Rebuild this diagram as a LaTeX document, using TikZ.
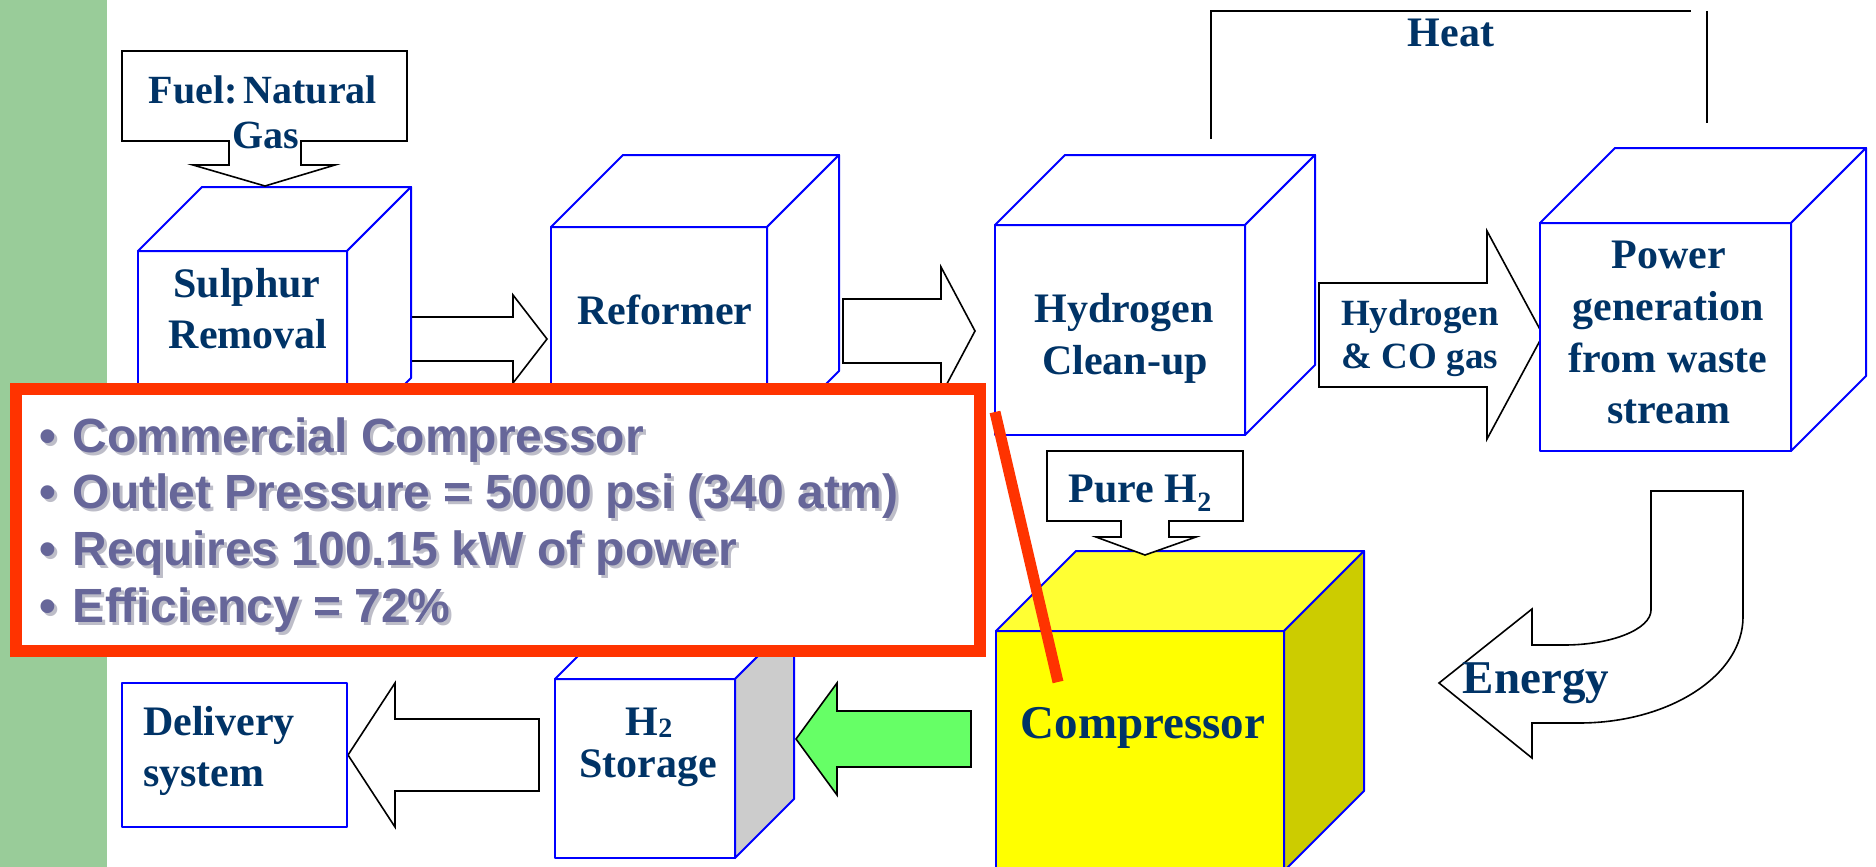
\documentclass[tikz,border=0pt]{standalone}
\usepackage{fontspec}
\setmainfont{Liberation Serif}
\newfontfamily\arialfont{Liberation Sans}

\definecolor{navy}{HTML}{003366}
\definecolor{cubeblue}{HTML}{0000FF}
\definecolor{sidebar}{HTML}{99CC99}
\definecolor{alertred}{HTML}{FF3300}
\definecolor{notetext}{HTML}{666699}
\definecolor{shadegrey}{HTML}{BDBDC8}
\definecolor{compyellow}{HTML}{FFFF00}
\definecolor{comptop}{HTML}{FFFF33}
\definecolor{compside}{HTML}{CCCC00}
\definecolor{tankside}{HTML}{CCCCCC}
\definecolor{flowgreen}{HTML}{66FF66}

\tikzset{
  cubeline/.style={draw=cubeblue, line width=2pt, line join=round},
  blockarrow/.style={draw=black, line width=1.6pt, line join=miter},
  heatline/.style={draw=black, line width=1.8pt},
  lbl/.style={text=navy, font=\fontsize{42}{50}\selectfont\bfseries, inner sep=0pt, anchor=base},
  notetxt/.style={font=\arialfont\fontsize{48}{56}\selectfont\bfseries, inner sep=0pt, anchor=base west}
}

% x y w h depth front top side
\newcommand{\boxcube}[8]{%
  \filldraw[cubeline, fill=#6] (#1,#2) rectangle (#1+#3,#2+#4);
  \filldraw[cubeline, fill=#7] (#1,#2) -- (#1+#5,#2-#5) -- (#1+#3+#5,#2-#5) -- (#1+#3,#2) -- cycle;
  \filldraw[cubeline, fill=#8] (#1+#3,#2) -- (#1+#3+#5,#2-#5) -- (#1+#3+#5,#2+#4-#5) -- (#1+#3,#2+#4) -- cycle;
}
% tail x, head x, tip x, mid y, half body, half head, fill
\newcommand{\flatarrow}[7]{%
  \filldraw[blockarrow, fill=#7] (#1,#4-#5) -- (#2,#4-#5) -- (#2,#4-#6) -- (#3,#4)
    -- (#2,#4+#6) -- (#2,#4+#5) -- (#1,#4+#5) -- cycle;
}
\newcommand{\lowtwo}[1]{\raisebox{-#1}{\fontsize{28}{30}\selectfont 2}}

\begin{document}
\begin{tikzpicture}[x=1pt,y=-1pt]
\useasboundingbox (0,0) rectangle (1876,867);
\fill[sidebar] (0,0) rectangle (107,867);

% flow arrows
\flatarrow{411}{513}{547}{339}{22}{44}{white}
\flatarrow{843}{941}{975}{331}{32}{64}{white}
\flatarrow{1319}{1487}{1543}{335}{52}{104}{white}
\flatarrow{539}{395}{348}{755}{36}{72}{white}
\flatarrow{971}{837}{796}{739}{28}{56}{flowgreen}

% energy return
\filldraw[blockarrow, fill=white] (1651,491) -- (1743,491) -- (1743,617)
  .. controls (1743,675) and (1670,723) .. (1579,723) -- (1532,723) -- (1532,758)
  -- (1439,683) -- (1532,609) -- (1532,645) -- (1564,645)
  .. controls (1612,645) and (1651,629) .. (1651,610) -- cycle;

% heat loop
\draw[heatline] (1211,139) -- (1211,11) -- (1691,11);
\draw[heatline] (1707,11) -- (1707,123);

% units
\boxcube{138}{251}{209}{191}{64}{white}{white}{white}
\boxcube{551}{227}{216}{216}{72}{white}{white}{white}
\boxcube{995}{225}{250}{210}{70}{white}{white}{white}
\boxcube{1540}{223}{251}{228}{75}{white}{white}{white}
\boxcube{996}{631}{288}{240}{80}{compyellow}{comptop}{compside}
\boxcube{555}{679}{180}{179}{59}{white}{white}{tankside}
\filldraw[cubeline, fill=white] (122,683) rectangle (347,827);

% feed callouts
\filldraw[blockarrow, fill=white] (122,51) -- (407,51) -- (407,141) -- (301,141) -- (301,165)
  -- (335,165) -- (265,186) -- (193,165) -- (229,165) -- (229,141) -- (122,141) -- cycle;
\filldraw[blockarrow, fill=white] (1047,451) -- (1243,451) -- (1243,521) -- (1169,521) -- (1169,537)
  -- (1196,537) -- (1145,555) -- (1096,537) -- (1121,537) -- (1121,521) -- (1047,521) -- cycle;

% labels
\node[lbl, font=\fontsize{40}{48}\selectfont\bfseries] (fuelA) at (263,103) {Fuel:\hspace{6pt}Natural};
\node[lbl, font=\fontsize{40}{48}\selectfont\bfseries] (fuelB) at (266,148) {Gas};
\node[lbl] (sulA) at (247,297) {Sulphur};
\node[lbl] (sulB) at (248,348) {Removal};
\node[lbl] (refA) at (665,324) {Reformer};
\node[lbl] (cleanA) at (1124,322) {Hydrogen};
\node[lbl] (cleanB) at (1125,374) {Clean-up};
\node[lbl] (heat) at (1451,47) {Heat};
\node[lbl, font=\fontsize{37}{44}\selectfont\bfseries] (gasA) at (1420,325) {Hydrogen};
\node[lbl, font=\fontsize{37}{44}\selectfont\bfseries] (gasB) at (1420,368) {\& CO gas};
\node[lbl] (powA) at (1669,268) {Power};
\node[lbl] (powB) at (1668,320) {generation};
\node[lbl] (powC) at (1668,372) {from waste};
\node[lbl] (powD) at (1669,423) {stream};
\node[lbl] (pure) at (1140,502) {Pure H\lowtwo{9pt}};
\node[lbl, font=\fontsize{47}{56}\selectfont\bfseries] (comp) at (1143,738) {Compressor};
\node[lbl, font=\fontsize{47}{56}\selectfont\bfseries] (energy) at (1536,693) {Energy};
\node[lbl] (stoA) at (649,735) {H\lowtwo{2pt}};
\node[lbl] (stoB) at (648,777) {Storage};
\node[lbl, anchor=base west] (delA) at (143,735) {Delivery};
\node[lbl, anchor=base west] (delB) at (143,786) {system};

% compressor note
\draw[line width=12pt, draw=alertred, fill=white] (16,389) rectangle (979.5,651);
\foreach \txt [count=\i] in {Commercial Compressor, {Outlet Pressure = 5000 psi (340 atm)},
    Requires 100.15 kW of power, Efficiency = 72\%} {
  \node[notetxt, text=shadegrey] (shade\i) at (42,455+56.7*\i-56.7) {\textbullet\hspace{17pt}\txt};
  \node[notetxt, text=notetext] (note\i) at (39,452+56.7*\i-56.7) {\textbullet\hspace{17pt}\txt};
}
\draw[line width=11pt, alertred] (995,412) -- (1058,682);
\end{tikzpicture}
\end{document}
